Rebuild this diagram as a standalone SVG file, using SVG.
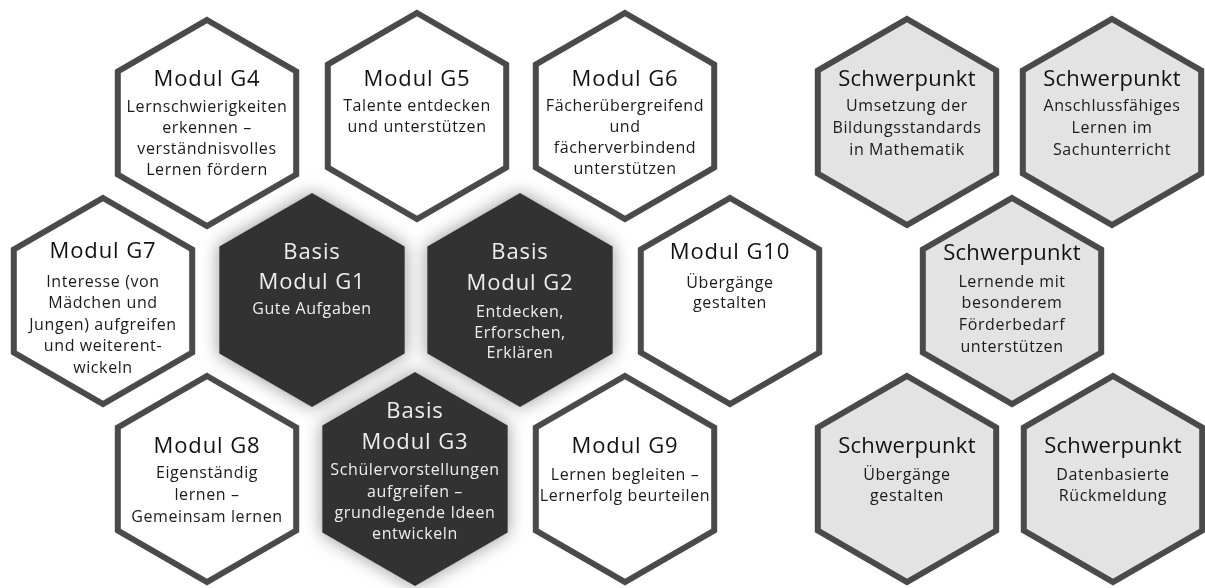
<svg xmlns="http://www.w3.org/2000/svg" xmlns:xlink="http://www.w3.org/1999/xlink" width="1205" height="588" viewBox="0 0 1205 588">
<style>
text{font-family:"Open Sans","Noto Sans","Liberation Sans",sans-serif;text-anchor:middle}
.t{font-size:22px;letter-spacing:0.9px;fill:#111111}
.b{font-size:16px;letter-spacing:0.6px;fill:#1a1a1a}
.sp{font-weight:500;letter-spacing:0.3px}
.dark text{fill:#eeeeee}
.w{fill:#ffffff;stroke:#4a4a4a;stroke-width:6}
.g{fill:#e3e3e3;stroke:#4a4a4a;stroke-width:6}
.d{fill:#333333}
</style>
<defs>
<polygon id="hex" points="0,-103 89.2,-51.5 89.2,51.5 0,103 -89.2,51.5 -89.2,-51.5"/>
<polygon id="hexL" points="0,-107 92.7,-53.5 92.7,53.5 0,107 -92.7,53.5 -92.7,-53.5"/>
<filter id="glow" x="-30%" y="-30%" width="160%" height="160%">
<feGaussianBlur in="SourceAlpha" stdDeviation="9" result="b"/>
<feFlood flood-color="#8a8a8a" flood-opacity="0.9"/>
<feComposite in2="b" operator="in" result="s"/>
<feMerge><feMergeNode in="s"/><feMergeNode in="SourceGraphic"/></feMerge>
</filter>
</defs>
<rect width="1205" height="588" fill="#ffffff"/>
<g id="connectors"/>
<g class="dark" filter="url(#glow)">
<use href="#hexL" x="312" y="300" class="d"/>
<use href="#hexL" x="520" y="300" class="d"/>
<use href="#hexL" x="415" y="479" class="d"/>
</g>
<g id="G1" class="dark">
<text class="t" x="312" y="259">Basis</text>
<text class="t" x="312" y="289">Modul G1</text>
<text class="b" x="312" y="314">Gute Aufgaben</text>
</g>
<g id="G2" class="dark">
<text class="t" x="520" y="259">Basis</text>
<text class="t" x="520" y="290">Modul G2</text>
<text class="b" x="520" y="317">Entdecken,</text>
<text class="b" x="520" y="338">Erforschen,</text>
<text class="b" x="520" y="358">Erklären</text>
</g>
<g id="G3" class="dark">
<text class="t" x="415" y="418">Basis</text>
<text class="t" x="415" y="449">Modul G3</text>
<text class="b" x="415" y="475">Schülervorstellungen</text>
<text class="b" x="415" y="497">aufgreifen –</text>
<text class="b" x="415" y="518">grundlegende Ideen</text>
<text class="b" x="415" y="539">entwickeln</text>
</g>
<g id="G4">
<use href="#hex" x="207" y="123" class="w"/>
<text class="t" x="207" y="86">Modul G4</text>
<text class="b" x="207" y="112">Lernschwierigkeiten</text>
<text class="b" x="207" y="133">erkennen –</text>
<text class="b" x="207" y="154">verständnisvolles</text>
<text class="b" x="207" y="175">Lernen fördern</text>
</g>
<g id="G5">
<use href="#hex" x="417" y="116" class="w"/>
<text class="t" x="417" y="86">Modul G5</text>
<text class="b" x="417" y="111">Talente entdecken</text>
<text class="b" x="417" y="132">und unterstützen</text>
</g>
<g id="G6">
<use href="#hex" x="625" y="116" class="w"/>
<text class="t" x="625" y="86">Modul G6</text>
<text class="b" x="625" y="111">Fächerübergreifend</text>
<text class="b" x="625" y="132">und</text>
<text class="b" x="625" y="153">fächerverbindend</text>
<text class="b" x="625" y="174">unterstützen</text>
</g>
<g id="G7">
<use href="#hex" x="103" y="301" class="w"/>
<text class="t" x="103" y="258">Modul G7</text>
<text class="b" x="103" y="287">Interesse (von</text>
<text class="b" x="103" y="308">Mädchen und</text>
<text class="b" x="103" y="330">Jungen) aufgreifen</text>
<text class="b" x="103" y="351">und weiterent-</text>
<text class="b" x="103" y="373">wickeln</text>
</g>
<g id="G10">
<use href="#hex" x="730" y="301" class="w"/>
<text class="t" x="730" y="259">Modul G10</text>
<text class="b" x="730" y="288">Übergänge</text>
<text class="b" x="730" y="308">gestalten</text>
</g>
<g id="G8">
<use href="#hex" x="207" y="479" class="w"/>
<text class="t" x="207" y="453">Modul G8</text>
<text class="b" x="207" y="478">Eigenständig</text>
<text class="b" x="207" y="500">lernen –</text>
<text class="b" x="207" y="522">Gemeinsam lernen</text>
</g>
<g id="G9">
<use href="#hex" x="625" y="479" class="w"/>
<text class="t" x="625" y="453">Modul G9</text>
<text class="b" x="625" y="480">Lernen begleiten –</text>
<text class="b" x="625" y="501">Lernerfolg beurteilen</text>
</g>
<g id="S1">
<use href="#hex" x="907" y="122" class="g"/>
<text class="t sp" x="907" y="86">Schwerpunkt</text>
<text class="b" x="907" y="111">Umsetzung der</text>
<text class="b" x="907" y="133">Bildungsstandards</text>
<text class="b" x="907" y="155">in Mathematik</text>
</g>
<g id="S2">
<use href="#hex" x="1112" y="122" class="g"/>
<text class="t sp" x="1112" y="86">Schwerpunkt</text>
<text class="b" x="1112" y="111">Anschlussfähiges</text>
<text class="b" x="1112" y="133">Lernen im</text>
<text class="b" x="1112" y="155">Sachunterricht</text>
</g>
<g id="S3">
<use href="#hex" x="1012" y="301" class="g"/>
<text class="t sp" x="1012" y="260">Schwerpunkt</text>
<text class="b" x="1012" y="287">Lernende mit</text>
<text class="b" x="1012" y="308">besonderem</text>
<text class="b" x="1012" y="330">Förderbedarf</text>
<text class="b" x="1012" y="352">unterstützen</text>
</g>
<g id="S4">
<use href="#hex" x="907" y="479" class="g"/>
<text class="t sp" x="907" y="453">Schwerpunkt</text>
<text class="b" x="907" y="480">Übergänge</text>
<text class="b" x="907" y="501">gestalten</text>
</g>
<g id="S5">
<use href="#hex" x="1113" y="479" class="g"/>
<text class="t sp" x="1113" y="453">Schwerpunkt</text>
<text class="b" x="1113" y="480">Datenbasierte</text>
<text class="b" x="1113" y="501">Rückmeldung</text>
</g>
</svg>
